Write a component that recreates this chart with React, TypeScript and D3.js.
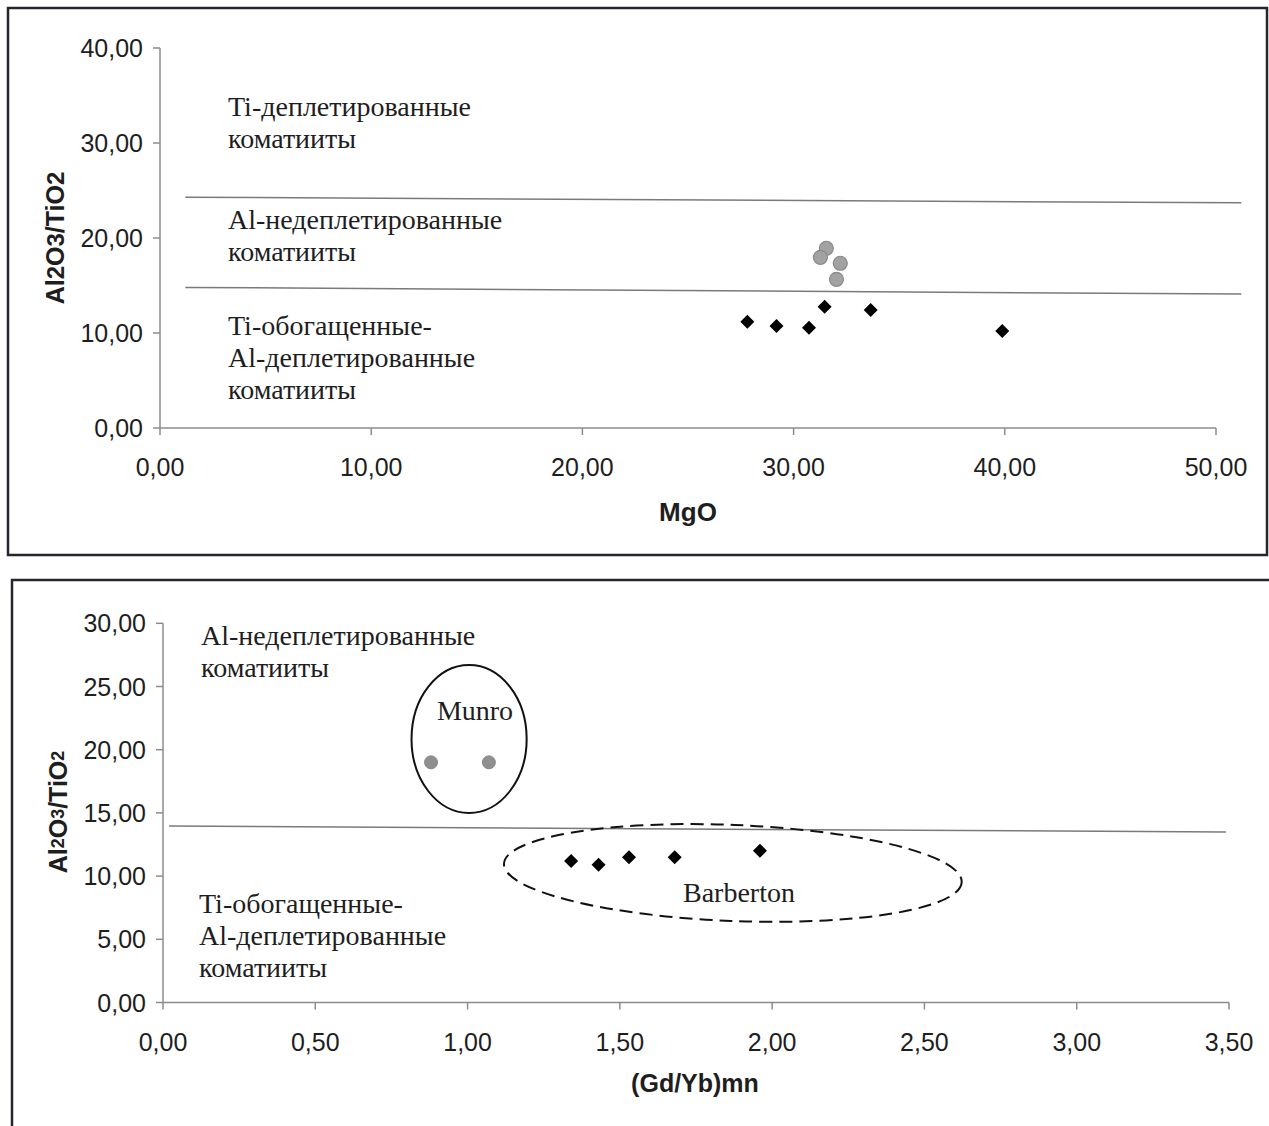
import React from "react";
import * as d3 from "d3";

// ---------- Data ----------
// Top chart: MgO vs Al2O3/TiO2
const topCircleMgO = [31.55, 31.27, 32.21, 32.03];
const topCircleRatio = [18.92, 17.97, 17.34, 15.65];
const topDiamondMgO = [27.81, 29.19, 30.73, 31.47, 33.65, 39.88];
const topDiamondRatio = [11.19, 10.74, 10.56, 12.77, 12.42, 10.21];
const topXTicks = [0, 10, 20, 30, 40, 50];
const topYTicks = [0, 10, 20, 30, 40];
const topBoundaryUpper = [[1.2, 24.3], [51.2, 23.7]];
const topBoundaryLower = [[1.2, 14.8], [51.2, 14.1]];

// Bottom chart: (Gd/Yb)mn vs Al2O3/TiO2
const botCircleGdYb = [0.88, 1.07];
const botCircleRatio = [19.0, 19.0];
const botDiamondGdYb = [1.34, 1.43, 1.53, 1.68, 1.96];
const botDiamondRatio = [11.2, 10.9, 11.5, 11.5, 12.0];
const botXTicks = [0, 0.5, 1, 1.5, 2, 2.5, 3, 3.5];
const botYTicks = [0, 5, 10, 15, 20, 25, 30];
const botBoundary = [[0.02, 13.96], [3.49, 13.49]];
const munroEllipse = { cx: 1.005, cy: 20.85, rx: 0.189, ry: 5.85 };
const barbertonEllipse = { cx: 1.871, cy: 10.25, rx: 0.752, ry: 3.8, tilt: 2.3 };

const fmt = (v: number) => d3.format(".2f")(v).replace(".", ",");

const SANS = "'Liberation Sans', Arial, sans-serif";
const SERIF = "'Liberation Serif', 'Times New Roman', serif";
const AXIS = "#8c8c8c";
const TXT = "#1e1e1e";

function diamond(x: number, y: number, r: number) {
  return `M${x},${y - r}L${x + r},${y}L${x},${y + r}L${x - r},${y}Z`;
}

function Axes({ x, y, xTicks, yTicks, fs }: any) {
  const [x0] = x.range();
  const [y0, y1] = y.range();
  const xr = x.range();
  return (
    <g>
      <line x1={x0} x2={x0} y1={y0} y2={y1} stroke={AXIS} strokeWidth={1.5} />
      <line x1={xr[0]} x2={xr[1]} y1={y0} y2={y0} stroke={AXIS} strokeWidth={1.5} />
      {yTicks.map((t: number) => (
        <g key={"y" + t}>
          <line x1={x0 - 7} x2={x0} y1={y(t)} y2={y(t)} stroke={AXIS} strokeWidth={1.5} />
          <text x={x0 - 17} y={y(t)} dy="0.36em" textAnchor="end" fontFamily={SANS} fontSize={fs} fill={TXT}>
            {fmt(t)}
          </text>
        </g>
      ))}
      {xTicks.map((t: number) => (
        <g key={"x" + t}>
          <line x1={x(t)} x2={x(t)} y1={y0} y2={y0 + 7} stroke={AXIS} strokeWidth={1.5} />
          <text x={x(t)} y={y0 + 48} textAnchor="middle" fontFamily={SANS} fontSize={fs} fill={TXT}>
            {fmt(t)}
          </text>
        </g>
      ))}
    </g>
  );
}

function YTitle({ x, y, sub }: { x: number; y: number; sub: boolean }) {
  const ds = sub ? 18 : 24;
  return (
    <text
      transform={`translate(${x},${y}) rotate(-90)`}
      textAnchor="middle"
      dominantBaseline="central"
      fontFamily={SANS}
      fontWeight="bold"
      fontSize={25}
      fill={TXT}
    >
      Al<tspan fontSize={ds}>2</tspan>O<tspan fontSize={ds}>3</tspan>/TiO<tspan fontSize={ds}>2</tspan>
    </text>
  );
}

function SerifLines({ x, y, lines, fs = 28, gap = 32 }: any) {
  return (
    <text fontFamily={SERIF} fontSize={fs} fill={TXT}>
      {lines.map((l: string, i: number) => (
        <tspan key={i} x={x} y={y + i * gap}>
          {l}
        </tspan>
      ))}
    </text>
  );
}

export default function App() {
  const tx = d3.scaleLinear().domain([0, 50]).range([160, 1216]);
  const ty = d3.scaleLinear().domain([0, 40]).range([428, 48]);
  const bx = d3.scaleLinear().domain([0, 3.5]).range([163, 1229]);
  const by = d3.scaleLinear().domain([0, 30]).range([1002.5, 623.3]);

  const lineT = d3.line<number[]>().x((d) => tx(d[0])).y((d) => ty(d[1]));
  const lineB = d3.line<number[]>().x((d) => bx(d[0])).y((d) => by(d[1]));

  const mE = munroEllipse;
  const bE = barbertonEllipse;

  return (
    <svg width={1269} height={1126} style={{ position: "absolute", left: 0, top: 0, background: "#fff" }}>
      <rect x={0} y={0} width={1269} height={1126} fill="#fff" />
      <rect x={8} y={8} width={1259} height={547} fill="none" stroke="#26262e" strokeWidth={2.5} />
      <rect x={12} y={580} width={1300} height={600} fill="none" stroke="#26262e" strokeWidth={2.5} />

      {/* ---------- Top chart ---------- */}
      <Axes x={tx} y={ty} xTicks={topXTicks} yTicks={topYTicks} fs={25} />
      <path d={lineT(topBoundaryUpper) || ""} stroke="#7a7a7a" strokeWidth={1.5} fill="none" />
      <path d={lineT(topBoundaryLower) || ""} stroke="#7a7a7a" strokeWidth={1.5} fill="none" />
      <SerifLines x={228} y={116} lines={["Ti-деплетированные", "коматииты"]} />
      <SerifLines x={228} y={229} lines={["Al-недеплетированные", "коматииты"]} />
      <SerifLines x={228} y={335} lines={["Ti-обогащенные-", "Al-деплетированные", "коматииты"]} />
      {topCircleMgO.map((v, i) => (
        <circle key={"tc" + i} cx={tx(v)} cy={ty(topCircleRatio[i])} r={7} fill="#a2a2a2" stroke="#8a8a8a" strokeWidth={1.2} />
      ))}
      {topDiamondMgO.map((v, i) => (
        <path key={"td" + i} d={diamond(tx(v), ty(topDiamondRatio[i]), 7)} fill="#000" />
      ))}
      <text x={688} y={521} textAnchor="middle" fontFamily={SANS} fontWeight="bold" fontSize={26} fill={TXT}>
        MgO
      </text>
      <YTitle x={55} y={238} sub={false} />

      {/* ---------- Bottom chart ---------- */}
      <Axes x={bx} y={by} xTicks={botXTicks} yTicks={botYTicks} fs={25} />
      <path d={lineB(botBoundary) || ""} stroke="#7a7a7a" strokeWidth={1.5} fill="none" />
      <SerifLines x={201} y={645} lines={["Al-недеплетированные", "коматииты"]} />
      <SerifLines x={199} y={913} lines={["Ti-обогащенные-", "Al-деплетированные", "коматииты"]} />
      <ellipse
        cx={bx(mE.cx)}
        cy={by(mE.cy)}
        rx={bx(mE.rx) - bx(0)}
        ry={by(0) - by(mE.ry)}
        fill="none"
        stroke="#111"
        strokeWidth={2}
      />
      <text x={475} y={720} textAnchor="middle" fontFamily={SERIF} fontSize={28} fill={TXT}>
        Munro
      </text>
      <ellipse
        cx={bx(bE.cx)}
        cy={by(bE.cy)}
        rx={bx(bE.rx) - bx(0)}
        ry={by(0) - by(bE.ry)}
        transform={`rotate(${bE.tilt} ${bx(bE.cx)} ${by(bE.cy)})`}
        fill="none"
        stroke="#111"
        strokeWidth={2}
        strokeDasharray="13 7"
      />
      <text x={739} y={902} textAnchor="middle" fontFamily={SERIF} fontSize={28} fill={TXT}>
        Barberton
      </text>
      {botCircleGdYb.map((v, i) => (
        <circle key={"bc" + i} cx={bx(v)} cy={by(botCircleRatio[i])} r={6.5} fill="#8f8f8f" stroke="#8a8a8a" strokeWidth={1} />
      ))}
      {botDiamondGdYb.map((v, i) => (
        <path key={"bd" + i} d={diamond(bx(v), by(botDiamondRatio[i]), 7)} fill="#000" />
      ))}
      <text x={695} y={1092} textAnchor="middle" fontFamily={SANS} fontWeight="bold" fontSize={25} fill={TXT}>
        (Gd/Yb)mn
      </text>
      <YTitle x={58} y={812} sub={true} />
    </svg>
  );
}
